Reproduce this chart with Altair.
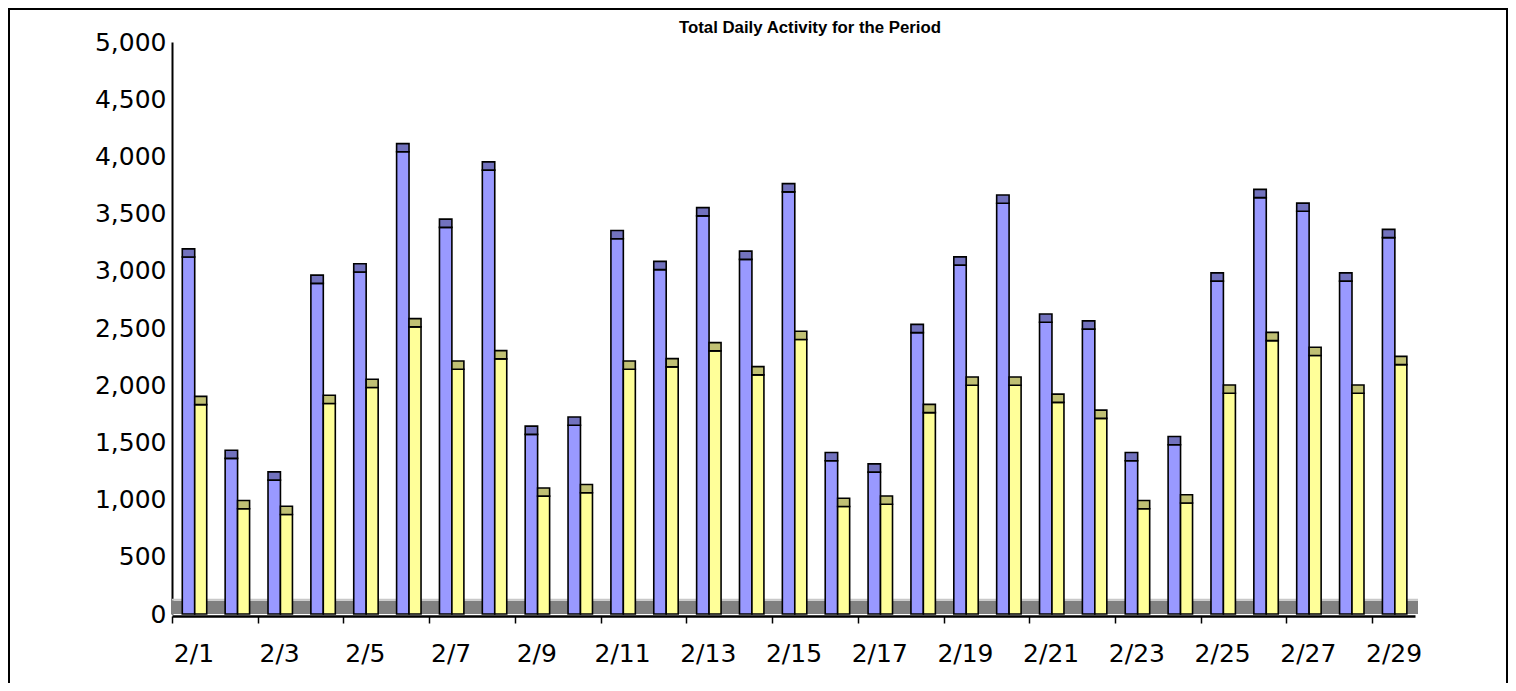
import altair as alt
import pandas as pd

DAYS = list(range(1, 30))
SERIES = ["Series 1", "Series 2"]
BLUE = [3120, 1360, 1170, 2890, 2990, 4040, 3380, 3880, 1570, 1650,
        3280, 3010, 3480, 3100, 3690, 1340, 1240, 2460, 3050, 3590,
        2550, 2490, 1340, 1480, 2910, 3640, 3520, 2910, 3290]
YELLOW = [1830, 920, 870, 1840, 1980, 2510, 2140, 2230, 1030, 1060,
          2140, 2160, 2300, 2090, 2400, 940, 960, 1760, 2000, 2000,
          1850, 1710, 920, 970, 1930, 2390, 2260, 1930, 2180]
Y_TICKS = list(range(0, 5001, 500))
X_LABEL_DAYS = [d for d in DAYS if d % 2 == 1]
TITLE = "Total Daily Activity for the Period"

rows = []
for d, b, y in zip(DAYS, BLUE, YELLOW):
    rows.append({"day": d, "series": SERIES[0], "value": b})
    rows.append({"day": d, "series": SERIES[1], "value": y})
df = pd.DataFrame(rows)

W, H = 1243, 572
PAD_L, PAD_T = 164, 34
PAD_R = 1500 - PAD_L - W
PAD_B = 675 - PAD_T - H

xscale = alt.Scale(domain=[min(DAYS) - 0.5, max(DAYS) + 0.5], nice=False, zero=False)
yscale = alt.Scale(domain=[0, 5000], nice=False)

tick_vals = []
for d in X_LABEL_DAYS:
    if d - 0.5 < max(DAYS) - 0.5 + 0.01:
        tick_vals.append(d - 0.5)
    tick_vals.append(d)

xaxis = alt.Axis(
    values=tick_vals,
    labelExpr="datum.value % 2 === 1 ? '2/' + datum.value : ''",
    labelOverlap=False,
    title=None,
    grid=False,
    tickSize=7,
    tickColor="black",
    tickWidth=1.5,
    tickOpacity={"condition": {"test": "datum.value % 1 === 0", "value": 0}, "value": 1},
    domainColor="black",
    domainWidth=2.5,
    offset=2,
    labelFont="DejaVu Sans",
    labelFontSize=25,
    labelColor="black",
    labelPadding=18,
)
yaxis = alt.Axis(
    values=Y_TICKS,
    format=",.0f",
    title=None,
    grid=False,
    ticks=False,
    tickSize=0,
    domainColor="black",
    domainWidth=2,
    labelFont="DejaVu Sans",
    labelFontSize=25,
    labelColor="black",
    labelPadding=6,
)

def X(f):
    return alt.X(f, type="quantitative", scale=xscale, axis=xaxis)

def Y(f):
    return alt.Y(f, type="quantitative", scale=yscale, axis=yaxis)

def positioned(src):
    return alt.Chart(src).transform_calculate(
        x0="datum.day + (datum.series === 'Series 1' ? -0.26 : 0.03)",
        x1="datum.day + (datum.series === 'Series 1' ? 0.03 : 0.31)",
        top="datum.value + 72",
    )

bars = positioned(df).mark_bar(stroke="black", strokeWidth=1.6, opacity=1).encode(
    x=X("x0"), x2="x1", y=Y("value"), y2=alt.datum(0),
    color=alt.condition("datum.series === 'Series 1'", alt.value("#9999FF"), alt.value("#FFFF99")),
)
caps = positioned(df).mark_bar(stroke="black", strokeWidth=1.6, opacity=1).encode(
    x=X("x0"), x2="x1", y=Y("value"), y2="top",
    color=alt.condition("datum.series === 'Series 1'", alt.value("#7272BE"), alt.value("#C0C074")),
)

floor_df = pd.DataFrame({"a": [min(DAYS) - 0.5], "b": [max(DAYS) + 0.57]})
floor = alt.Chart(floor_df).transform_calculate(f0="0", f1="116").mark_rect(
    color="#808080"
).encode(x=X("a"), x2="b", y=Y("f0"), y2="f1")
floor_line = alt.Chart(floor_df).transform_calculate(fl="125").mark_rule(
    color="#C8C8C8", strokeWidth=2
).encode(x=X("a"), x2="b", y=Y("fl"))

one = pd.DataFrame({"a": [0]})
frame = alt.Chart(one).mark_rect(
    fill=None, stroke="black", strokeWidth=2
).encode(
    x=alt.value(-PAD_L + 1), x2=alt.value(W + PAD_R - 1),
    y=alt.value(-PAD_T + 1), y2=alt.value(H + PAD_B + 40),
)
title = alt.Chart(one).mark_text(
    text=TITLE, font="Liberation Sans, Arial, sans-serif", fontSize=16.8, fontWeight="bold",
    align="center", baseline="alphabetic", color="black",
).encode(x=alt.value(638), y=alt.value(-8.7))

chart = alt.layer(frame, floor, floor_line, bars, caps, title).properties(
    width=W,
    height=H,
    padding={"left": PAD_L, "top": PAD_T, "right": PAD_R, "bottom": PAD_B},
    autosize=alt.AutoSizeParams(type="none"),
).configure(background="white").configure_view(stroke=None)

chart.save("out.html", embed_options={"renderer": "svg", "actions": False})
